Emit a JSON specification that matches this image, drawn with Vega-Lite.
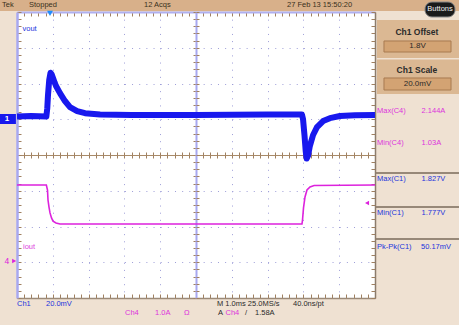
{
  "$schema": "https://vega.github.io/schema/vega-lite/v6.json",
  "width": 358,
  "height": 286,
  "autosize": {"type": "none"},
  "padding": {"left": 17, "top": 12, "right": 84, "bottom": 27},
  "background": "#EFE1D2",
  "config": {
    "view": {"fill": "#FFFFFF", "stroke": null},
    "text": {"font": "Liberation Sans", "fontSize": 7.5, "align": "left", "baseline": "middle", "color": "#2A2A2A"}
  },
  "data": {"values": [{}]},
  "datasets": {
    "vout": [
      {"t": 0, "v": 1.08}, {"t": 0.4, "v": 1.09}, {"t": 0.82, "v": 1.08}, {"t": 0.845, "v": 1.3},
      {"t": 0.866, "v": 1.68}, {"t": 0.9, "v": 2.1}, {"t": 0.936, "v": 2.3}, {"t": 0.97, "v": 2.25},
      {"t": 1.006, "v": 2.15}, {"t": 1.05, "v": 2.03}, {"t": 1.09, "v": 1.93}, {"t": 1.2, "v": 1.73},
      {"t": 1.34, "v": 1.51}, {"t": 1.48, "v": 1.34}, {"t": 1.68, "v": 1.23}, {"t": 1.9, "v": 1.17},
      {"t": 2.32, "v": 1.13}, {"t": 3.2, "v": 1.12}, {"t": 5, "v": 1.12}, {"t": 7, "v": 1.13},
      {"t": 7.96, "v": 1.13}, {"t": 7.99, "v": 1.0}, {"t": 8.03, "v": 0.56}, {"t": 8.065, "v": 0.1},
      {"t": 8.09, "v": -0.1}, {"t": 8.13, "v": -0.02}, {"t": 8.18, "v": 0.25}, {"t": 8.27, "v": 0.56},
      {"t": 8.38, "v": 0.78}, {"t": 8.55, "v": 0.95}, {"t": 8.74, "v": 1.03}, {"t": 9.02, "v": 1.09},
      {"t": 9.44, "v": 1.11}, {"t": 10, "v": 1.12}
    ],
    "iout": [
      {"t": 0, "v": -0.84}, {"t": 0.82, "v": -0.84}, {"t": 0.852, "v": -0.98}, {"t": 0.866, "v": -1.26},
      {"t": 0.894, "v": -1.455}, {"t": 0.922, "v": -1.62}, {"t": 0.964, "v": -1.76}, {"t": 1.006, "v": -1.85},
      {"t": 1.09, "v": -1.9}, {"t": 1.2, "v": -1.93}, {"t": 7.96, "v": -1.93}, {"t": 7.975, "v": -1.82},
      {"t": 8.003, "v": -1.48}, {"t": 8.045, "v": -1.175}, {"t": 8.1, "v": -0.98}, {"t": 8.184, "v": -0.895},
      {"t": 8.3, "v": -0.853}, {"t": 10, "v": -0.84}
    ]
  },
  "resolve": {"axis": {"x": "independent", "y": "independent"}},
  "layer": [
    {"mark": {"type": "rect", "color": "#D8B08A"},
     "encoding": {"x": {"datum": -0.475, "type": "quantitative", "axis": null}, "x2": {"datum": 12.35},
                  "y": {"datum": 4.34, "type": "quantitative", "axis": null}, "y2": {"datum": 4.028}}},
    {"mark": {"type": "rect", "color": "#DBB893"},
     "encoding": {"x": {"datum": 10.056, "type": "quantitative", "axis": null}, "x2": {"datum": 12.35},
                  "y": {"datum": 3.776, "type": "quantitative", "axis": null}, "y2": {"datum": 2.713}}},
    {"mark": {"type": "rect", "color": "#DBB893"},
     "encoding": {"x": {"datum": 10.056, "type": "quantitative", "axis": null}, "x2": {"datum": 12.35},
                  "y": {"datum": 2.671, "type": "quantitative", "axis": null}, "y2": {"datum": 1.706}}},
    {"mark": {"type": "rect", "color": "#D3A373", "stroke": "#A87A50", "strokeWidth": 1},
     "encoding": {"x": {"datum": 10.251, "type": "quantitative", "axis": null}, "x2": {"datum": 12.123},
                  "y": {"datum": 3.189, "type": "quantitative", "axis": null}, "y2": {"datum": 2.881}}},
    {"mark": {"type": "rect", "color": "#D3A373", "stroke": "#A87A50", "strokeWidth": 1},
     "encoding": {"x": {"datum": 10.251, "type": "quantitative", "axis": null}, "x2": {"datum": 12.123},
                  "y": {"datum": 2.154, "type": "quantitative", "axis": null}, "y2": {"datum": 1.818}}},
    {"mark": {"type": "rect", "color": "#1A1A1A", "stroke": "#8A8A8A", "strokeWidth": 1, "cornerRadius": 7},
     "encoding": {"x": {"datum": 11.397, "type": "quantitative", "axis": null}, "x2": {"datum": 12.235},
                  "y": {"datum": 4.28, "type": "quantitative", "axis": null}, "y2": {"datum": 3.86}}},
    {"mark": {"type": "rule", "color": "#7A6A5A", "strokeWidth": 1.5},
     "encoding": {"x": {"datum": 10.03, "type": "quantitative", "axis": null}, "x2": {"datum": 12.35},
                  "y": {"datum": -0.503, "type": "quantitative", "axis": null}}},
    {"mark": {"type": "rule", "color": "#7A6A5A", "strokeWidth": 1.5},
     "encoding": {"x": {"datum": 10.03, "type": "quantitative", "axis": null}, "x2": {"datum": 12.35},
                  "y": {"datum": -1.455, "type": "quantitative", "axis": null}}},
    {"mark": {"type": "rule", "color": "#7A6A5A", "strokeWidth": 1.5},
     "encoding": {"x": {"datum": 10.03, "type": "quantitative", "axis": null}, "x2": {"datum": 12.35},
                  "y": {"datum": -2.35, "type": "quantitative", "axis": null}}},
    {"data": {"name": "vout"},
     "mark": {"type": "line", "color": "#1818EE", "strokeWidth": 6, "strokeJoin": "round"},
     "encoding": {
       "x": {"field": "t", "type": "quantitative", "scale": {"domain": [0, 10], "nice": false, "zero": false},
             "axis": {"orient": "bottom", "values": [1, 2, 3, 4, 5, 6, 7, 8, 9], "grid": true, "gridDash": [1, 6.15], "gridColor": "#9E9ED8", "gridWidth": 1, "gridOpacity": 1, "ticks": false, "labels": false, "domain": false, "title": null}},
       "y": {"field": "v", "type": "quantitative", "scale": {"domain": [-4, 4], "nice": false, "zero": false},
             "axis": {"orient": "left", "values": [-3, -2, -1, 1, 2, 3], "grid": true, "gridDash": [1, 6.16], "gridColor": "#9E9ED8", "gridWidth": 1, "gridOpacity": 1, "ticks": false, "labels": false, "domain": false, "title": null}}
     }},
    {"data": {"name": "iout"},
     "mark": {"type": "line", "color": "#DD22DD", "strokeWidth": 1.6},
     "encoding": {
       "x": {"field": "t", "type": "quantitative", "scale": {"domain": [0, 10], "nice": false, "zero": false},
             "axis": {"orient": "bottom", "values": [0,0.2,0.4,0.6,0.8,1,1.2,1.4,1.6,1.8,2,2.2,2.4,2.6,2.8,3,3.2,3.4,3.6,3.8,4,4.2,4.4,4.6,4.8,5,5.2,5.4,5.6,5.8,6,6.2,6.4,6.6,6.8,7,7.2,7.4,7.6,7.8,8,8.2,8.4,8.6,8.8,9,9.2,9.4,9.6,9.8,10], "tickSize": -4, "tickColor": "#A08060", "domainColor": "#9C8A78", "domainWidth": 1.5, "grid": false, "labels": false, "title": null}},
       "y": {"field": "v", "type": "quantitative", "scale": {"domain": [-4, 4], "nice": false, "zero": false},
             "axis": {"orient": "left", "values": [-4,-3.8,-3.6,-3.4,-3.2,-3,-2.8,-2.6,-2.4,-2.2,-2,-1.8,-1.6,-1.4,-1.2,-1,-0.8,-0.6,-0.4,-0.2,0,0.2,0.4,0.6,0.8,1,1.2,1.4,1.6,1.8,2,2.2,2.4,2.6,2.8,3,3.2,3.4,3.6,3.8,4], "tickSize": -4, "tickColor": "#A08060", "domainColor": "#A8A8F0", "domainWidth": 2.5, "grid": false, "labels": false, "title": null}}
     }},
    {"mark": {"type": "text", "text": "vout", "color": "#2233DD"},
     "encoding": {
       "x": {"datum": 0.154, "type": "quantitative",
             "axis": {"orient": "top", "values": [0,0.2,0.4,0.6,0.8,1,1.2,1.4,1.6,1.8,2,2.2,2.4,2.6,2.8,3,3.2,3.4,3.6,3.8,4,4.2,4.4,4.6,4.8,5,5.2,5.4,5.6,5.8,6,6.2,6.4,6.6,6.8,7,7.2,7.4,7.6,7.8,8,8.2,8.4,8.6,8.8,9,9.2,9.4,9.6,9.8,10], "tickSize": -4, "tickColor": "#A08060", "domainColor": "#B0B0F0", "domainWidth": 2, "grid": false, "labels": false, "title": null}},
       "y": {"datum": 3.524, "type": "quantitative",
             "axis": {"orient": "right", "values": [-4,-3.8,-3.6,-3.4,-3.2,-3,-2.8,-2.6,-2.4,-2.2,-2,-1.8,-1.6,-1.4,-1.2,-1,-0.8,-0.6,-0.4,-0.2,0,0.2,0.4,0.6,0.8,1,1.2,1.4,1.6,1.8,2,2.2,2.4,2.6,2.8,3,3.2,3.4,3.6,3.8,4], "tickSize": -4, "tickColor": "#A08060", "domainColor": "#8C7C6C", "domainWidth": 1.5, "grid": false, "labels": false, "title": null}}
     }},
    {"mark": {"type": "rect", "color": "#1818EE"},
     "encoding": {
       "x": {"datum": -0.475, "type": "quantitative",
             "axis": {"orient": "bottom", "offset": -143, "values": [0,0.2,0.4,0.6,0.8,1,1.2,1.4,1.6,1.8,2,2.2,2.4,2.6,2.8,3,3.2,3.4,3.6,3.8,4,4.2,4.4,4.6,4.8,5,5.2,5.4,5.6,5.8,6,6.2,6.4,6.6,6.8,7,7.2,7.4,7.6,7.8,8,8.2,8.4,8.6,8.8,9,9.2,9.4,9.6,9.8,10], "tickSize": 3, "tickColor": "#A08060", "domainColor": "#A88A68", "domainWidth": 1, "grid": false, "labels": false, "title": null}},
       "x2": {"datum": -0.03},
       "y": {"datum": 1.147, "type": "quantitative",
             "axis": {"orient": "left", "offset": -179, "values": [-4,-3.8,-3.6,-3.4,-3.2,-3,-2.8,-2.6,-2.4,-2.2,-2,-1.8,-1.6,-1.4,-1.2,-1,-0.8,-0.6,-0.4,-0.2,0,0.2,0.4,0.6,0.8,1,1.2,1.4,1.6,1.8,2,2.2,2.4,2.6,2.8,3,3.2,3.4,3.6,3.8,4], "tickSize": 3, "tickColor": "#A08060", "domainColor": "#A8A8F0", "domainWidth": 2, "grid": false, "labels": false, "title": null}},
       "y2": {"datum": 0.867}
     }},
    {"mark": {"type": "text", "text": "1", "color": "#FFFFFF", "fontSize": 8, "fontWeight": "bold", "align": "center"},
     "encoding": {
       "x": {"datum": -0.28, "type": "quantitative",
             "axis": {"orient": "bottom", "offset": -143, "values": [0,0.2,0.4,0.6,0.8,1,1.2,1.4,1.6,1.8,2,2.2,2.4,2.6,2.8,3,3.2,3.4,3.6,3.8,4,4.2,4.4,4.6,4.8,5,5.2,5.4,5.6,5.8,6,6.2,6.4,6.6,6.8,7,7.2,7.4,7.6,7.8,8,8.2,8.4,8.6,8.8,9,9.2,9.4,9.6,9.8,10], "tickSize": -3, "tickColor": "#A08060", "domain": false, "grid": false, "labels": false, "title": null}},
       "y": {"datum": 1.007, "type": "quantitative",
             "axis": {"orient": "left", "offset": -179, "values": [-4,-3.8,-3.6,-3.4,-3.2,-3,-2.8,-2.6,-2.4,-2.2,-2,-1.8,-1.6,-1.4,-1.2,-1,-0.8,-0.6,-0.4,-0.2,0,0.2,0.4,0.6,0.8,1,1.2,1.4,1.6,1.8,2,2.2,2.4,2.6,2.8,3,3.2,3.4,3.6,3.8,4], "tickSize": -3, "tickColor": "#A08060", "domain": false, "grid": false, "labels": false, "title": null}}
     }},
    {"mark": {"type": "text", "text": "iout", "color": "#DD44DD"},
     "encoding": {"x": {"datum": 0.168, "type": "quantitative", "axis": null}, "y": {"datum": -2.573, "type": "quantitative", "axis": null}}},
    {"mark": {"type": "text", "text": "4", "color": "#DD22DD", "fontSize": 8.5, "align": "center"},
     "encoding": {"x": {"datum": -0.28, "type": "quantitative", "axis": null}, "y": {"datum": -2.965, "type": "quantitative", "axis": null}}},
    {"mark": {"type": "point", "shape": "triangle-right", "filled": true, "size": 22, "color": "#DD22DD", "opacity": 1},
     "encoding": {"x": {"datum": -0.08, "type": "quantitative", "axis": null}, "y": {"datum": -2.965, "type": "quantitative", "axis": null}}},
    {"mark": {"type": "point", "shape": "triangle-left", "filled": true, "size": 22, "color": "#DD22DD", "opacity": 1},
     "encoding": {"x": {"datum": 9.777, "type": "quantitative", "axis": null}, "y": {"datum": -1.343, "type": "quantitative", "axis": null}}},
    {"mark": {"type": "point", "shape": "triangle-down", "filled": true, "size": 35, "color": "#1E8FFF", "opacity": 1},
     "encoding": {"x": {"datum": 0.922, "type": "quantitative", "axis": null}, "y": {"datum": 3.96, "type": "quantitative", "axis": null}}},
    {"mark": {"type": "text", "text": "Tek", "color": "#3A3020"},
     "encoding": {"x": {"datum": -0.42, "type": "quantitative", "axis": null}, "y": {"datum": 4.182, "type": "quantitative", "axis": null}}},
    {"mark": {"type": "text", "text": "Stopped", "color": "#3A3020"},
     "encoding": {"x": {"datum": 0.335, "type": "quantitative", "axis": null}, "y": {"datum": 4.182, "type": "quantitative", "axis": null}}},
    {"mark": {"type": "text", "text": "12 Acqs", "color": "#3A3020"},
     "encoding": {"x": {"datum": 3.547, "type": "quantitative", "axis": null}, "y": {"datum": 4.182, "type": "quantitative", "axis": null}}},
    {"mark": {"type": "text", "text": "27 Feb 13 15:50:20", "color": "#3A3020"},
     "encoding": {"x": {"datum": 7.542, "type": "quantitative", "axis": null}, "y": {"datum": 4.182, "type": "quantitative", "axis": null}}},
    {"mark": {"type": "text", "text": "Buttons", "color": "#F0F0F0", "align": "center"},
     "encoding": {"x": {"datum": 11.816, "type": "quantitative", "axis": null}, "y": {"datum": 4.07, "type": "quantitative", "axis": null}}},
    {"mark": {"type": "text", "text": "Ch1 Offset", "color": "#2A2A2A", "align": "center", "fontWeight": "bold", "fontSize": 8.5},
     "encoding": {"x": {"datum": 11.17, "type": "quantitative", "axis": null}, "y": {"datum": 3.427, "type": "quantitative", "axis": null}}},
    {"mark": {"type": "text", "text": "1.8V", "color": "#2A2A2A", "align": "center", "fontSize": 8},
     "encoding": {"x": {"datum": 11.187, "type": "quantitative", "axis": null}, "y": {"datum": 3.035, "type": "quantitative", "axis": null}}},
    {"mark": {"type": "text", "text": "Ch1 Scale", "color": "#2A2A2A", "align": "center", "fontWeight": "bold", "fontSize": 8.5},
     "encoding": {"x": {"datum": 11.17, "type": "quantitative", "axis": null}, "y": {"datum": 2.378, "type": "quantitative", "axis": null}}},
    {"mark": {"type": "text", "text": "20.0mV", "color": "#2A2A2A", "align": "center", "fontSize": 8},
     "encoding": {"x": {"datum": 11.187, "type": "quantitative", "axis": null}, "y": {"datum": 1.986, "type": "quantitative", "axis": null}}},
    {"mark": {"type": "text", "text": "Max(C4)", "color": "#DD33DD"},
     "encoding": {"x": {"datum": 10.056, "type": "quantitative", "axis": null}, "y": {"datum": 1.231, "type": "quantitative", "axis": null}}},
    {"mark": {"type": "text", "text": "2.144A", "color": "#DD33DD"},
     "encoding": {"x": {"datum": 11.30, "type": "quantitative", "axis": null}, "y": {"datum": 1.231, "type": "quantitative", "axis": null}}},
    {"mark": {"type": "text", "text": "Min(C4)", "color": "#DD33DD"},
     "encoding": {"x": {"datum": 10.056, "type": "quantitative", "axis": null}, "y": {"datum": 0.336, "type": "quantitative", "axis": null}}},
    {"mark": {"type": "text", "text": "1.03A", "color": "#DD33DD"},
     "encoding": {"x": {"datum": 11.30, "type": "quantitative", "axis": null}, "y": {"datum": 0.336, "type": "quantitative", "axis": null}}},
    {"mark": {"type": "text", "text": "Max(C1)", "color": "#2233DD"},
     "encoding": {"x": {"datum": 10.056, "type": "quantitative", "axis": null}, "y": {"datum": -0.671, "type": "quantitative", "axis": null}}},
    {"mark": {"type": "text", "text": "1.827V", "color": "#2233DD"},
     "encoding": {"x": {"datum": 11.30, "type": "quantitative", "axis": null}, "y": {"datum": -0.671, "type": "quantitative", "axis": null}}},
    {"mark": {"type": "text", "text": "Min(C1)", "color": "#2233DD"},
     "encoding": {"x": {"datum": 10.056, "type": "quantitative", "axis": null}, "y": {"datum": -1.622, "type": "quantitative", "axis": null}}},
    {"mark": {"type": "text", "text": "1.777V", "color": "#2233DD"},
     "encoding": {"x": {"datum": 11.30, "type": "quantitative", "axis": null}, "y": {"datum": -1.622, "type": "quantitative", "axis": null}}},
    {"mark": {"type": "text", "text": "Pk-Pk(C1)", "color": "#2233DD"},
     "encoding": {"x": {"datum": 10.056, "type": "quantitative", "axis": null}, "y": {"datum": -2.573, "type": "quantitative", "axis": null}}},
    {"mark": {"type": "text", "text": "50.17mV", "color": "#2233DD"},
     "encoding": {"x": {"datum": 11.285, "type": "quantitative", "axis": null}, "y": {"datum": -2.573, "type": "quantitative", "axis": null}}},
    {"mark": {"type": "text", "text": "Ch1", "color": "#2233DD"},
     "encoding": {"x": {"datum": 0.0, "type": "quantitative", "axis": null}, "y": {"datum": -4.168, "type": "quantitative", "axis": null}}},
    {"mark": {"type": "text", "text": "20.0mV", "color": "#2233DD"},
     "encoding": {"x": {"datum": 0.81, "type": "quantitative", "axis": null}, "y": {"datum": -4.168, "type": "quantitative", "axis": null}}},
    {"mark": {"type": "text", "text": "Ch4", "color": "#DD33DD"},
     "encoding": {"x": {"datum": 3.017, "type": "quantitative", "axis": null}, "y": {"datum": -4.42, "type": "quantitative", "axis": null}}},
    {"mark": {"type": "text", "text": "1.0A", "color": "#DD33DD"},
     "encoding": {"x": {"datum": 3.855, "type": "quantitative", "axis": null}, "y": {"datum": -4.42, "type": "quantitative", "axis": null}}},
    {"mark": {"type": "text", "text": "Ω", "color": "#DD33DD"},
     "encoding": {"x": {"datum": 4.665, "type": "quantitative", "axis": null}, "y": {"datum": -4.42, "type": "quantitative", "axis": null}}},
    {"mark": {"type": "text", "text": "M 1.0ms 25.0MS/s"},
     "encoding": {"x": {"datum": 5.587, "type": "quantitative", "axis": null}, "y": {"datum": -4.168, "type": "quantitative", "axis": null}}},
    {"mark": {"type": "text", "text": "40.0ns/pt"},
     "encoding": {"x": {"datum": 7.709, "type": "quantitative", "axis": null}, "y": {"datum": -4.168, "type": "quantitative", "axis": null}}},
    {"mark": {"type": "text", "text": "A"},
     "encoding": {"x": {"datum": 5.615, "type": "quantitative", "axis": null}, "y": {"datum": -4.42, "type": "quantitative", "axis": null}}},
    {"mark": {"type": "text", "text": "Ch4", "color": "#DD33DD"},
     "encoding": {"x": {"datum": 5.824, "type": "quantitative", "axis": null}, "y": {"datum": -4.42, "type": "quantitative", "axis": null}}},
    {"mark": {"type": "text", "text": "/"},
     "encoding": {"x": {"datum": 6.369, "type": "quantitative", "axis": null}, "y": {"datum": -4.42, "type": "quantitative", "axis": null}}},
    {"mark": {"type": "text", "text": "1.58A"},
     "encoding": {"x": {"datum": 6.648, "type": "quantitative", "axis": null}, "y": {"datum": -4.42, "type": "quantitative", "axis": null}}}
  ]
}
